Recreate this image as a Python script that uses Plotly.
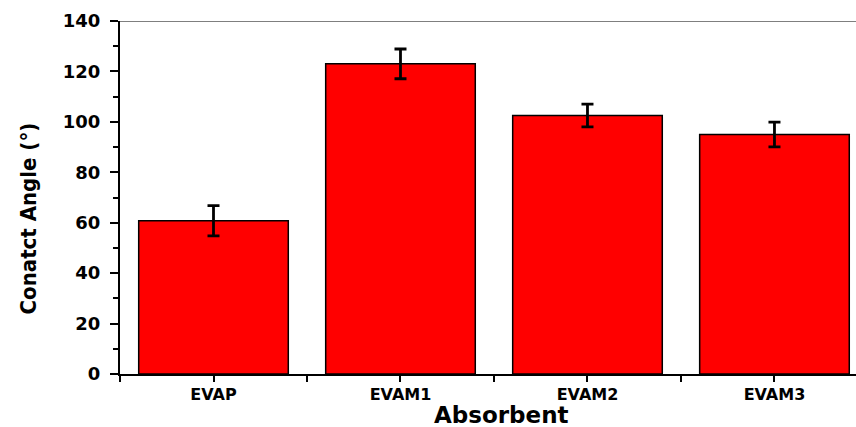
import plotly.graph_objects as go

categories = ["EVAP", "EVAM1", "EVAM2", "EVAM3"]
contact_angle = [60.8, 123.0, 102.5, 95.0]
error = [6.0, 5.9, 4.5, 4.9]
y_ticks = [0, 20, 40, 60, 80, 100, 120, 140]

x_idx = list(range(len(categories)))

fig = go.Figure()
fig.add_trace(go.Bar(
    x=x_idx, y=contact_angle, width=0.8,
    marker=dict(color="#FF0000", line=dict(color="black", width=1.5)),
    error_y=dict(type="data", array=error, visible=True, color="black",
                 thickness=2.8, width=6),
))

fig.add_shape(type="line", xref="paper", yref="y", x0=0, x1=1, y0=140, y1=140,
              line=dict(color="#555555", width=1.5))

fig.add_annotation(
    text="<b>Conatct Angle (°)</b>", textangle=-90,
    xref="paper", yref="paper", x=-0.124, y=0.44,
    xanchor="center", yanchor="middle", showarrow=False,
    font=dict(family="DejaVu Sans Condensed", size=22, color="black"),
)
fig.add_annotation(
    text="<b>Absorbent</b>",
    xref="paper", yref="paper", x=0.519, y=-0.1585,
    xanchor="center", yanchor="bottom", showarrow=False,
    font=dict(family="DejaVu Sans", size=23, color="black"),
)

fig.update_layout(
    width=856, height=427,
    margin=dict(l=120, r=0, t=21, b=53),
    paper_bgcolor="white", plot_bgcolor="white",
    showlegend=False,
    font=dict(family="DejaVu Sans", color="black"),
)
fig.update_xaxes(
    range=[-0.5, 3.436],
    tickvals=x_idx, ticktext=[f"<b>{c}</b>" for c in categories],
    tickfont=dict(family="DejaVu Sans", size=16, color="black"),
    ticks="outside", ticklen=6, tickwidth=1.5, tickcolor="black",
    ticklabelstandoff=-1,
    minor=dict(tickvals=[-0.5, 0.5, 1.5, 2.5, 3.5], ticks="outside", ticklen=6, tickwidth=1.5, tickcolor="black"),
    showline=True, linecolor="black", linewidth=2,
    showgrid=False, zeroline=False,
)
fig.update_yaxes(
    range=[0, 140],
    tickvals=y_ticks, ticktext=[f"<b>{v}</b>" for v in y_ticks],
    tickfont=dict(family="DejaVu Sans", size=18, color="black"),
    ticks="outside", ticklen=8, tickwidth=1.5, tickcolor="black",
    ticklabelstandoff=6,
    minor=dict(dtick=10, tick0=0, ticks="outside", ticklen=5, tickwidth=1.5, tickcolor="black"),
    showline=True, linecolor="black", linewidth=2,
    showgrid=False, zeroline=False,
)
fig.write_html("out.html", config={"displayModeBar": False},
               post_script="document.body.style.margin='0';document.body.style.overflow='hidden';")
